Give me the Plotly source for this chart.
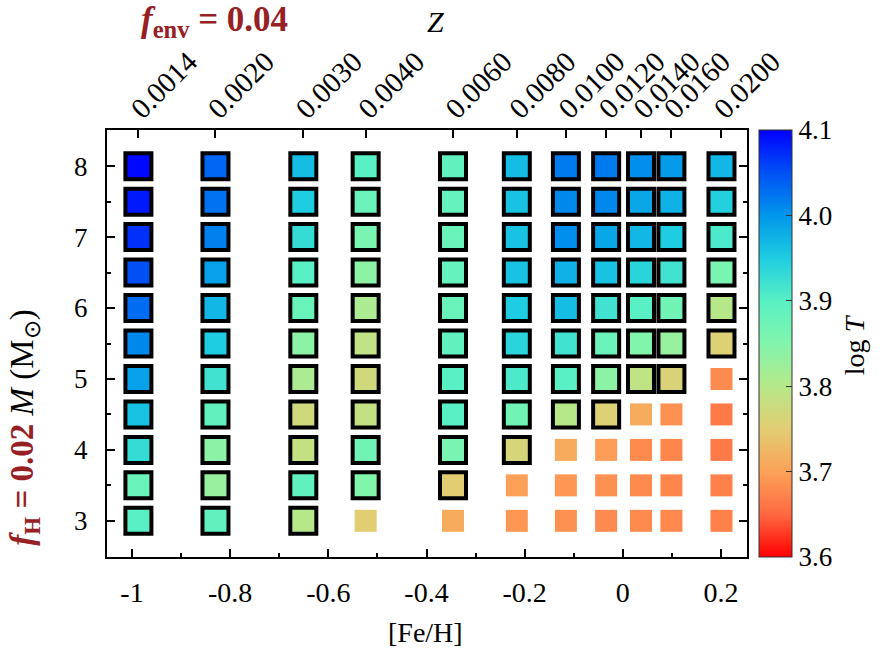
import plotly.graph_objects as go

# ---------------- data ----------------
z_labels = ["0.0014", "0.0020", "0.0030", "0.0040", "0.0060", "0.0080",
            "0.0100", "0.0120", "0.0140", "0.0160", "0.0200"]
feh = [-0.987, -0.830, -0.651, -0.524, -0.346, -0.216,
       -0.116, -0.034, 0.037, 0.099, 0.201]
masses = [3.0, 3.5, 4.0, 4.5, 5.0, 5.5, 6.0, 6.5, 7.0, 7.5, 8.0]

# log T for each Z column, masses 3 -> 8
logT_Z0014 = [3.90, 3.88, 3.93, 3.96, 3.99, 4.01, 4.03, 4.05, 4.07, 4.085, 4.095]
logT_Z0020 = [3.89, 3.83, 3.84, 3.89, 3.92, 3.95, 3.97, 3.99, 4.015, 4.025, 4.035]
logT_Z0030 = [3.80, 3.89, 3.785, 3.77, 3.81, 3.84, 3.88, 3.90, 3.93, 3.95, 3.965]
logT_Z0040 = [3.75, 3.85, 3.87, 3.785, 3.77, 3.79, 3.81, 3.84, 3.86, 3.88, 3.90]
logT_Z0060 = [3.71, 3.75, 3.86, 3.90, 3.90, 3.89, 3.88, 3.885, 3.88, 3.885, 3.89]
logT_Z0080 = [3.69, 3.70, 3.765, 3.87, 3.91, 3.94, 3.95, 3.96, 3.96, 3.96, 3.965]
logT_Z0100 = [3.685, 3.69, 3.71, 3.80, 3.90, 3.92, 3.965, 3.975, 4.005, 4.01, 4.02]
logT_Z0120 = [3.68, 3.685, 3.695, 3.755, 3.84, 3.88, 3.92, 3.96, 3.985, 4.01, 4.02]
logT_Z0140 = [3.68, 3.68, 3.68, 3.71, 3.79, 3.85, 3.90, 3.94, 3.97, 3.985, 4.005]
logT_Z0160 = [3.678, 3.675, 3.675, 3.685, 3.76, 3.83, 3.87, 3.92, 3.95, 3.975, 3.995]
logT_Z0200 = [3.67, 3.67, 3.665, 3.665, 3.68, 3.755, 3.80, 3.86, 3.91, 3.945, 3.97]
logT_columns = [logT_Z0014, logT_Z0020, logT_Z0030, logT_Z0040, logT_Z0060, logT_Z0080,
                logT_Z0100, logT_Z0120, logT_Z0140, logT_Z0160, logT_Z0200]

# number of lowest-mass models in each column drawn without the black frame
n_unframed = [0, 0, 0, 1, 1, 2, 3, 3, 4, 4, 5]

feh_ticks = [-1, -0.8, -0.6, -0.4, -0.2, 0, 0.2]
feh_ticktext = ["-1", "-0.8", "-0.6", "-0.4", "-0.2", "0", "0.2"]
feh_minor = [-0.9, -0.7, -0.5, -0.3, -0.1, 0.1]
mass_ticks = [3, 4, 5, 6, 7, 8]
mass_minor = [3.5, 4.5, 5.5, 6.5, 7.5]
cbar_ticks = [3.6, 3.7, 3.8, 3.9, 4.0, 4.1]
cbar_ticktext = ["3.6", "3.7", "3.8", "3.9", "4.0", "4.1"]

# ---------------- build point lists ----------------
fx, fy, fc = [], [], []
ux, uy, uc = [], [], []
for j, col in enumerate(logT_columns):
    for i, m in enumerate(masses):
        if i < n_unframed[j]:
            ux.append(feh[j]); uy.append(m); uc.append(col[i])
        else:
            fx.append(feh[j]); fy.append(m); fc.append(col[i])

colorscale = [
    [0.0, "rgb(255,0,0)"],
    [0.1, "rgb(255,105,65)"],
    [0.2, "rgb(252,162,88)"],
    [0.3, "rgb(226,205,115)"],
    [0.4, "rgb(182,232,138)"],
    [0.5, "rgb(130,245,172)"],
    [0.6, "rgb(88,240,196)"],
    [0.7, "rgb(30,205,225)"],
    [0.8, "rgb(0,150,235)"],
    [0.9, "rgb(0,80,245)"],
    [1.0, "rgb(0,0,255)"],
]

RED = "rgb(150,32,36)"
FONT = "Liberation Serif, Times New Roman, serif"

fig = go.Figure()
fig.add_trace(go.Scatter(
    x=fx, y=fy, mode="markers", hoverinfo="skip",
    marker=dict(symbol="square", size=26, color=fc, coloraxis="coloraxis",
                line=dict(color="black", width=4)),
))
fig.add_trace(go.Scatter(
    x=ux, y=uy, mode="markers", hoverinfo="skip",
    marker=dict(symbol="square", size=22, color=uc, coloraxis="coloraxis",
                line=dict(width=0)),
))
# invisible trace to activate the top Z axis
fig.add_trace(go.Scatter(
    x=feh, y=[masses[0]] * len(feh), mode="markers", xaxis="x2", yaxis="y",
    marker=dict(opacity=0), hoverinfo="skip", showlegend=False,
))

axis_common = dict(showgrid=False, zeroline=False, showline=True,
                   linecolor="black", linewidth=2, ticks="inside",
                   tickcolor="black", tickwidth=1.5, ticklen=8)

fig.update_layout(
    width=888, height=648,
    margin=dict(l=107, r=141, t=130, b=91, autoexpand=False),
    plot_bgcolor="white", paper_bgcolor="white",
    font=dict(family=FONT, size=26, color="black"),
    showlegend=False,
    xaxis=dict(range=[-1.051, 0.253], tickmode="array", tickvals=feh_ticks,
               ticktext=feh_ticktext, ticklabelstandoff=9,
               tickfont=dict(family=FONT, size=28, color="black"),
               minor=dict(tickvals=feh_minor, ticks="inside", ticklen=4,
                          tickcolor="black", tickwidth=1.5),
               **axis_common),
    xaxis2=dict(overlaying="x", side="top", matches="x", anchor="y",
                tickmode="array", tickvals=feh, ticktext=z_labels,
                tickangle=-45, ticklabelstandoff=-8, ticklabelshift=-6,
                tickfont=dict(family=FONT, size=29, color="black"),
                **axis_common),
    yaxis=dict(range=[2.49, 8.51], tickmode="array", tickvals=mass_ticks,
               mirror="ticks", ticklabelstandoff=12,
               tickfont=dict(family=FONT, size=27, color="black"),
               minor=dict(tickvals=mass_minor, ticks="inside", ticklen=4,
                          tickcolor="black", tickwidth=1.5),
               **axis_common),
    coloraxis=dict(
        colorscale=colorscale, cmin=3.6, cmax=4.1,
        colorbar=dict(x=1.01875, xanchor="left", y=0.5, yanchor="middle",
                      len=1, lenmode="fraction", thickness=33,
                      thicknessmode="pixels", outlinewidth=1,
                      outlinecolor="#333", xpad=0, ypad=0,
                      tickmode="array", tickvals=cbar_ticks,
                      ticktext=cbar_ticktext, ticks="inside", ticklen=6,
                      tickcolor="#333", tickwidth=1.2,
                      tickfont=dict(family=FONT, size=27, color="black")),
    ),
)

annotations = [
    dict(text="<b><i>f</i><sub>env</sub> = 0.04</b>", x=0.168, y=1.255,
         font=dict(family=FONT, size=35, color=RED)),
    dict(text="<i>Z</i>", x=0.5125, y=1.253,
         font=dict(family=FONT, size=30, color="black")),
    dict(text="[Fe/H]", x=0.497, y=-0.176,
         font=dict(family=FONT, size=28, color="black")),
    dict(text="log <i>T</i>", x=1.169, y=0.4965, textangle=-90,
         font=dict(family=FONT, size=28, color="black")),
    dict(text=("<span style='color:" + RED + "'><b><i>f</i><sub>H</sub> = 0.02</b></span>"
               " <i>M</i> (M<sub>\u2299</sub>)"),
         x=-0.128, y=0.303, textangle=-90,
         font=dict(family=FONT, size=33, color="black")),
]
for a in annotations:
    fig.add_annotation(xref="paper", yref="paper", xanchor="center",
                       yanchor="middle", showarrow=False, **a)

fig.write_html("out.html")
